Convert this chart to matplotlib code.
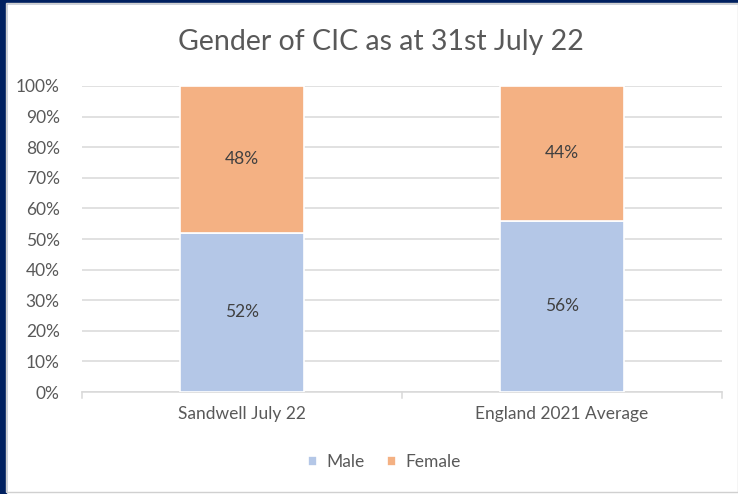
import matplotlib
matplotlib.use("Agg")
import matplotlib.pyplot as plt
from matplotlib.patches import Rectangle
import numpy as np

categories = ["Sandwell July 22", "England 2021 Average"]
male = [52, 56]
female = [48, 44]
yticks = list(range(0, 101, 10))

INK = "#595959"
GRID = "#d9d9d9"
MALE_C = "#b4c7e7"
FEMALE_C = "#f4b183"
NAVY = "#002060"

plt.rcParams["font.family"] = ["Lato", "DejaVu Sans"]

W, H = 738, 494
fig = plt.figure(figsize=(W / 100, H / 100), dpi=100, facecolor="white")

# frame of the screenshot
fig.patches.append(Rectangle((0, 0), 6 / W, 1, transform=fig.transFigure, color=NAVY, zorder=0))
fig.patches.append(Rectangle((0, 1 - 3 / H), 1, 3 / H, transform=fig.transFigure, color=NAVY, zorder=0))
fig.patches.append(Rectangle((6 / W, 2 / H), 1 - 6 / W, 1 - 5 / H, transform=fig.transFigure,
                             fill=False, ec="#d0d0d0", lw=1, zorder=0))

ax = fig.add_axes([82 / W, (H - 392) / H, 640 / W, 306 / H])
x = np.arange(len(categories))
bw = 0.39
ax.bar(x, male, bw, color=MALE_C, edgecolor="white", lw=1.2, label="Male", zorder=3)
ax.bar(x, female, bw, bottom=male, color=FEMALE_C, edgecolor="white", lw=1.2, label="Female", zorder=3)

for i in range(len(categories)):
    ax.text(x[i], male[i] / 2, f"{male[i]}%", ha="center", va="center", color="#404040", fontsize=12.5, zorder=4)
    ax.text(x[i], male[i] + female[i] / 2, f"{female[i]}%", ha="center", va="center", color="#404040",
            fontsize=12.5, zorder=4)

ax.set_xlim(-0.5, 1.5)
ax.set_ylim(0, 100)
ax.set_yticks(yticks)
ax.set_yticklabels([f"{v}%" for v in yticks])
ax.yaxis.grid(True, color=GRID, lw=1.1, zorder=0)
ax.set_axisbelow(True)
for s in ["top", "right", "left"]:
    ax.spines[s].set_visible(False)
ax.spines["bottom"].set_color(GRID)
ax.spines["bottom"].set_linewidth(1.1)
ax.tick_params(axis="y", length=0, labelsize=12.5, labelcolor=INK, pad=16)
ax.set_xticks(x)
ax.set_xticklabels(categories)
ax.tick_params(axis="x", length=0, labelsize=12.5, labelcolor=INK, pad=10)
for xt in [-0.5, 0.5, 1.5]:
    ax.plot([xt, xt], [0, -1.8], color=GRID, lw=1.1, clip_on=False)

fig.text(381 / W, 1 - 42 / H, "Gender of CIC as at 31st July 22", ha="center", va="center",
         fontsize=20.5, color=INK)
fig.legend(loc="center", bbox_to_anchor=(384 / W, 1 - 462 / H), ncol=2, frameon=False,
           fontsize=12.5, labelcolor=INK, handlelength=0.55, handleheight=0.55, columnspacing=1.3,
           handletextpad=0.5)

fig.savefig("out.png", dpi=100, facecolor="white")
